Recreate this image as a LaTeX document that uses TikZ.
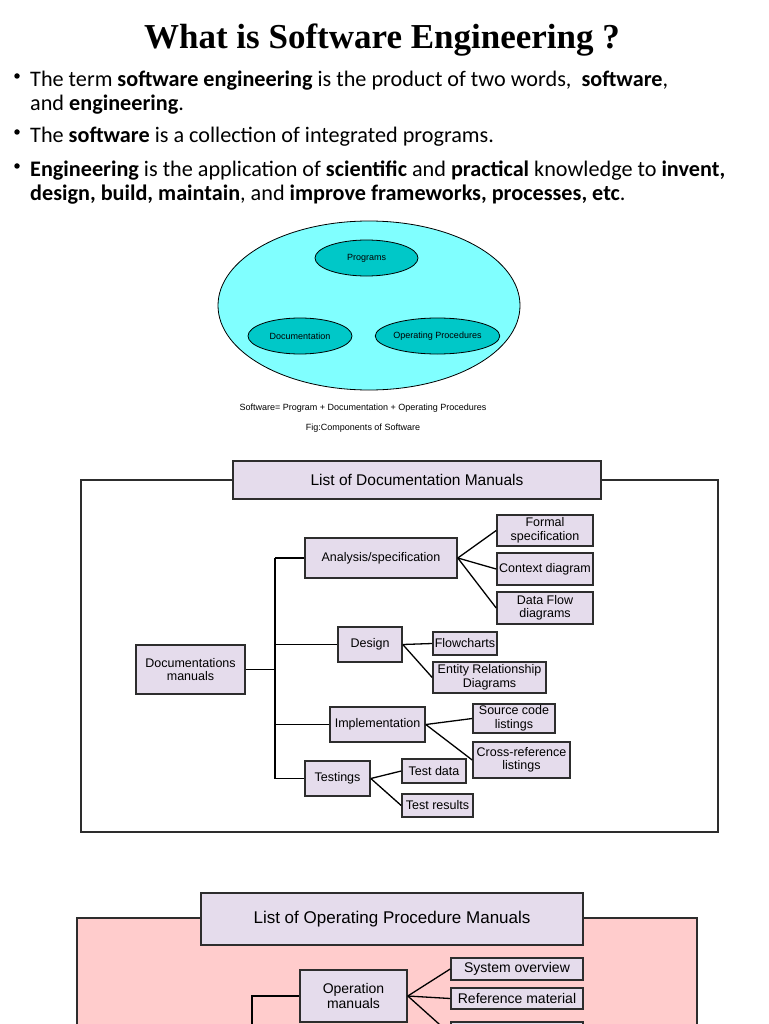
\documentclass[tikz,border=0pt]{standalone}
\usepackage{fontspec}
\setmainfont{Carlito}
\newfontfamily\arialf{Liberation Sans}
\newfontfamily\timesf{Liberation Serif}
\usetikzlibrary{shapes.geometric}
\definecolor{boxfill}{RGB}{229,220,236}
\definecolor{boxline}{RGB}{45,45,45}
\definecolor{cyanout}{RGB}{128,255,255}
\definecolor{tealin}{RGB}{0,200,200}
\definecolor{pinkbg}{RGB}{255,204,204}
\tikzset{
  mbox/.style={draw=boxline, line width=1.6pt, fill=boxfill, inner sep=0pt, align=center,
    font=\arialf\fontsize{12.5}{13.5}\selectfont},
  obox/.style={mbox, font=\arialf\fontsize{14}{15.5}\selectfont},
  tbox/.style={mbox, font=\arialf\fontsize{15.5}{17}\selectfont},
  conn/.style={draw=black, line width=1.3pt},
  frameline/.style={draw=boxline, line width=1.6pt},
  inell/.style={ellipse, draw=black, line width=0.8pt, fill=tealin, inner sep=0pt,
    font=\arialf\fontsize{9}{10}\selectfont},
  btext/.style={anchor=base west, inner sep=0pt, font=\fontsize{22.2}{26}\selectfont},
  bdot/.style={circle, fill=black, inner sep=0pt, minimum size=5.5pt},
  captext/.style={inner sep=0pt, font=\arialf\fontsize{9}{10}\selectfont}
}
\begin{document}
\begin{tikzpicture}[x=1pt,y=-1pt]
\useasboundingbox (0,0) rectangle (768,1024);
\fill[white] (0,0) rectangle (768,1024);
% title
\node[anchor=base, inner sep=0pt, font=\timesf\bfseries\fontsize{35}{40}\selectfont] (title) at (382,49) {What is Software Engineering ?};
% bullets
\node[bdot] (b1) at (17,76) {};
\node[btext] (l1) at (30,87) {The term \textbf{software engineering} is the product of two words,\ \ \textbf{software},};
\node[btext] (l2) at (30,111) {and \textbf{engineering}.};
\node[bdot] (b2) at (17,132) {};
\node[btext] (l3) at (30,143) {The \textbf{software} is a collection of integrated programs.};
\node[bdot] (b3) at (17,166) {};
\node[btext] (l4) at (30,177) {\textbf{Engineering} is the application of \textbf{scientific} and \textbf{practical} knowledge to \textbf{invent,}};
\node[btext] (l5) at (30,201) {\textbf{design, build, maintain}, and \textbf{improve frameworks, processes, etc}.};
% components ellipse
\node[ellipse, draw=black, line width=0.8pt, fill=cyanout, minimum width=302, minimum height=169, inner sep=0pt] (sw) at (369,305.5) {};
\node[inell, minimum width=103, minimum height=36] (prog) at (366.5,258) {Programs};
\node[inell, minimum width=104, minimum height=36] (doc) at (300,336) {Documentation};
\node[inell, minimum width=103, minimum height=36] (opp) at (437.5,336) {Operating Procedures};
\node[captext] (cap1) at (363,408) {Software= Program + Documentation + Operating Procedures};
\node[captext] (cap2) at (363,428) {Fig:Components of Software};
% documentation manuals
\coordinate (f1a) at (233,480);
\coordinate (f1b) at (81,480);
\coordinate (f1c) at (81,832);
\coordinate (f1d) at (718,832);
\coordinate (f1e) at (718,480);
\coordinate (f1f) at (601,480);
\draw[frameline] (f1a) -- (f1b) -- (f1c) -- (f1d) -- (f1e) -- (f1f);
\node[tbox, minimum width=368, minimum height=38] (t1) at (417,480) {List of Documentation Manuals};
\node[mbox, minimum width=152, minimum height=40] (ana) at (381,558) {Analysis/specification};
\node[mbox, minimum width=96, minimum height=31] (formal) at (545,530.5) {Formal\\specification};
\node[mbox, minimum width=96, minimum height=32] (context) at (545,569) {Context diagram};
\node[mbox, minimum width=96, minimum height=32] (dfd) at (545,608) {Data Flow\\diagrams};
\node[mbox, minimum width=64, minimum height=35] (design) at (370,644.5) {Design};
\node[mbox, minimum width=64, minimum height=23] (flow) at (465,643.5) {Flowcharts};
\node[mbox, minimum width=113, minimum height=31] (er) at (489.5,677.5) {Entity Relationship\\Diagrams};
\node[mbox, minimum width=109, minimum height=49] (docm) at (190.5,669.5) {Documentations\\manuals};
\node[mbox, minimum width=95, minimum height=35] (impl) at (377.5,724.5) {Implementation};
\node[mbox, minimum width=82, minimum height=29] (src) at (514,718.5) {Source code\\listings};
\node[mbox, minimum width=97, minimum height=36] (xref) at (521.5,760) {Cross-reference\\listings};
\node[mbox, minimum width=65, minimum height=35] (test) at (337.5,778.5) {Testings};
\node[mbox, minimum width=64, minimum height=24] (tdata) at (434,771) {Test data};
\node[mbox, minimum width=71, minimum height=23] (tres) at (437.5,805.5) {Test results};
\coordinate (tr1) at (275,558);
\coordinate (tr2) at (275,778.5);
\coordinate (tr3) at (275,669.5);
\draw[conn] (tr1) -- (tr2);
\draw[conn] (docm.east) -- (tr3);
\draw[conn] (tr1) -- (ana.west);
\draw[conn] (tr1 |- design.west) -- (design.west);
\draw[conn] (tr1 |- impl.west) -- (impl.west);
\draw[conn] (tr2) -- (test.west);
\draw[conn] (ana.east) -- (formal.west);
\draw[conn] (ana.east) -- (context.west);
\draw[conn] (ana.east) -- (dfd.west);
\draw[conn] (design.east) -- (flow.west);
\draw[conn] (design.east) -- (er.west);
\draw[conn] (impl.east) -- (src.west);
\draw[conn] (impl.east) -- (xref.west);
\draw[conn] (test.east) -- (tdata.west);
\draw[conn] (test.east) -- (tres.west);
% operating procedure manuals
\fill[pinkbg] (77,918) rectangle (697,1030);
\coordinate (f2a) at (201,918);
\coordinate (f2b) at (77,918);
\coordinate (f2c) at (77,1030);
\coordinate (f2d) at (697,1030);
\coordinate (f2e) at (697,918);
\coordinate (f2f) at (583,918);
\draw[frameline] (f2a) -- (f2b) -- (f2c);
\draw[frameline] (f2d) -- (f2e) -- (f2f);
\node[tbox, minimum width=382, minimum height=52, font=\arialf\fontsize{17}{19}\selectfont] (t2) at (392,919) {List of Operating Procedure Manuals};
\node[obox, minimum width=107, minimum height=52] (opm) at (353.5,996) {Operation\\manuals};
\node[obox, minimum width=132, minimum height=22] (sysov) at (517,969) {System overview};
\node[obox, minimum width=132, minimum height=21] (refm) at (517,998.5) {Reference material};
\node[obox, minimum width=132, minimum height=24] (third) at (517,1034) {};
\coordinate (tr4) at (252,996);
\coordinate (tr5) at (252,1030);
\draw[conn] (tr5) -- (tr4) -- (opm.west);
\draw[conn] (opm.east) -- (sysov.west);
\draw[conn] (opm.east) -- (refm.west);
\draw[conn] (opm.east) -- (third.west);
\end{tikzpicture}
\end{document}
